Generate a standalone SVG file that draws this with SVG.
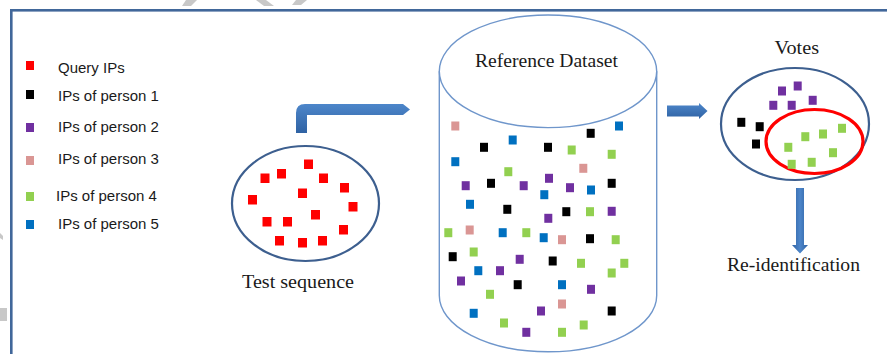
<svg xmlns="http://www.w3.org/2000/svg" width="887" height="354" viewBox="0 0 887 354">
<style>
.r{fill:#ff0000}.k{fill:#000000}.p{fill:#7030a0}.q{fill:#da9694}.g{fill:#92d050}.b{fill:#0070c0}
.leg{font-family:"Liberation Sans",Arial,sans-serif;font-size:15px;fill:#1a1a1a}
.ser{font-family:"Liberation Serif","Times New Roman",serif;font-size:18px;fill:#1a1a1a}
.ell{fill:none;stroke:#3d5f8f;stroke-width:2.2}
.cyl{fill:none;stroke:#6f96cb;stroke-width:1.4}
.gray{fill:#c8c8c8}
</style>
<defs>
<linearGradient id="gh" x1="0" y1="0" x2="0" y2="1"><stop offset="0" stop-color="#4d86ca"/><stop offset="1" stop-color="#2f62a3"/></linearGradient>
<linearGradient id="gv" x1="0" y1="0" x2="1" y2="0"><stop offset="0" stop-color="#2f62a3"/><stop offset="0.5" stop-color="#4d86ca"/><stop offset="1" stop-color="#2f62a3"/></linearGradient>
</defs>
<rect width="887" height="354" fill="#ffffff"/>
<g id="artifacts">
<polygon class="gray" points="186,0 197,0 191,6 182,6"/>
<polygon class="gray" points="256,0 266,0 274,6 264,6"/>
<polygon class="gray" points="296,0 307,0 301,5 292,5"/>
<rect class="gray" x="0" y="308" width="7" height="13"/>
<polygon class="gray" points="0,233 3,236 3,240 0,238"/>
</g>
<rect id="frame" x="11.3" y="10.3" width="900" height="400" fill="none" stroke="#41679a" stroke-width="2.6"/>
<g id="legend">
<rect class="r" x="26" y="61" width="8" height="9"/><text class="leg" x="58" y="73">Query IPs</text>
<rect class="k" x="26" y="90" width="8" height="9"/><text class="leg" x="58" y="101">IPs of person  1</text>
<rect class="p" x="26" y="123" width="8" height="9"/><text class="leg" x="58" y="132">IPs of person  2</text>
<rect class="q" x="26" y="156" width="8" height="9"/><text class="leg" x="58" y="164">IPs of person  3</text>
<rect class="g" x="26" y="192" width="8" height="9"/><text class="leg" x="56" y="201">IPs of person  4</text>
<rect class="b" x="26" y="220" width="8" height="9"/><text class="leg" x="58" y="229">IPs of person  5</text>
</g>
<g id="test-sequence">
<ellipse class="ell" cx="305.5" cy="203.5" rx="73.5" ry="57.5"/>
<g class="r">
<rect x="304" y="159.5" width="9" height="9.5"/><rect x="277" y="169" width="9" height="9.5"/>
<rect x="260.5" y="173.5" width="9" height="9.5"/><rect x="319" y="173.5" width="9" height="9.5"/>
<rect x="340" y="183" width="9" height="9.5"/><rect x="298" y="188.5" width="9" height="9.5"/>
<rect x="248" y="195" width="9" height="9.5"/><rect x="348.5" y="202" width="9" height="9.5"/>
<rect x="311" y="210" width="9" height="9.5"/><rect x="262.5" y="217" width="9" height="9.5"/>
<rect x="283" y="217" width="9" height="9.5"/><rect x="339" y="225" width="9" height="9.5"/>
<rect x="275" y="236" width="9" height="9.5"/><rect x="298" y="238" width="9" height="9.5"/>
<rect x="318" y="236" width="9" height="9.5"/>
</g>
<text class="ser" x="242" y="288" textLength="112" lengthAdjust="spacingAndGlyphs">Test sequence</text>
</g>
<g id="reference-dataset">
<path class="cyl" d="M439.3,71.3 V295.5 A108.7,56.3 0 0 0 656.7,295.5 V71.3"/>
<ellipse class="cyl" cx="548" cy="71.3" rx="108.7" ry="56.3"/>
<text class="ser" x="475" y="66.7" textLength="143" lengthAdjust="spacingAndGlyphs" style="font-size:19px">Reference Dataset</text>
<rect class="q" x="451.3" y="121.5" width="8" height="9"/>
<rect class="b" x="615" y="121.5" width="8" height="9"/>
<rect class="k" x="586.7" y="128.8" width="8" height="9"/>
<rect class="b" x="508.7" y="135.5" width="8" height="9"/>
<rect class="k" x="480" y="142.8" width="8" height="9"/>
<rect class="k" x="544" y="142.8" width="8" height="9"/>
<rect class="g" x="567.7" y="145.5" width="8" height="9"/>
<rect class="g" x="607.7" y="149.8" width="8" height="9"/>
<rect class="b" x="451.3" y="157.2" width="8" height="9"/>
<rect class="q" x="579.3" y="163.8" width="8" height="9"/>
<rect class="g" x="504.3" y="167.2" width="8" height="9"/>
<rect class="p" x="461.7" y="181.2" width="8" height="9"/>
<rect class="k" x="487" y="178.8" width="8" height="9"/>
<rect class="p" x="519.7" y="181.2" width="8" height="9"/>
<rect class="p" x="545" y="173.8" width="8" height="9"/>
<rect class="p" x="566" y="183.2" width="8" height="9"/>
<rect class="b" x="587" y="185.5" width="8" height="9"/>
<rect class="k" x="607.7" y="178.8" width="8" height="9"/>
<rect class="b" x="540.3" y="190.2" width="8" height="9"/>
<rect class="b" x="466" y="199.8" width="8" height="9"/>
<rect class="k" x="503.3" y="204.8" width="8" height="9"/>
<rect class="k" x="562.3" y="207.2" width="8" height="9"/>
<rect class="g" x="586" y="207.2" width="8" height="9"/>
<rect class="p" x="607.7" y="206.8" width="8" height="9"/>
<rect class="p" x="544.3" y="213.8" width="8" height="9"/>
<rect class="g" x="444.3" y="228.2" width="8" height="9"/>
<rect class="q" x="465.7" y="225.5" width="8" height="9"/>
<rect class="b" x="498.7" y="228.2" width="8" height="9"/>
<rect class="g" x="522.3" y="228.2" width="8" height="9"/>
<rect class="b" x="539.7" y="233.2" width="8" height="9"/>
<rect class="q" x="558" y="235.2" width="8" height="9"/>
<rect class="k" x="586" y="234.2" width="8" height="9"/>
<rect class="g" x="611.7" y="235.2" width="8" height="9"/>
<rect class="g" x="469.7" y="247.5" width="8" height="9"/>
<rect class="k" x="448.7" y="252.2" width="8" height="9"/>
<rect class="p" x="515.7" y="254.8" width="8" height="9"/>
<rect class="k" x="548.7" y="256.5" width="8" height="9"/>
<rect class="g" x="577" y="258.8" width="8" height="9"/>
<rect class="g" x="620.3" y="258.8" width="8" height="9"/>
<rect class="b" x="474.3" y="266.2" width="8" height="9"/>
<rect class="p" x="496" y="266.2" width="8" height="9"/>
<rect class="g" x="607.7" y="268.5" width="8" height="9"/>
<rect class="p" x="457" y="276.5" width="8" height="9"/>
<rect class="k" x="513.7" y="280.2" width="8" height="9"/>
<rect class="b" x="558" y="280.2" width="8" height="9"/>
<rect class="p" x="587" y="284.8" width="8" height="9"/>
<rect class="g" x="486" y="289.8" width="8" height="9"/>
<rect class="q" x="558" y="299.5" width="8" height="9"/>
<rect class="p" x="537" y="306.5" width="8" height="9"/>
<rect class="k" x="607.7" y="306.5" width="8" height="9"/>
<rect class="b" x="469.7" y="308.8" width="8" height="9"/>
<rect class="g" x="500" y="318.5" width="8" height="9"/>
<rect class="g" x="579.7" y="320.5" width="8" height="9"/>
<rect class="p" x="522.3" y="327.8" width="8" height="9"/>
<rect class="g" x="558" y="327.8" width="8" height="9"/>
</g>
<g id="votes">
<text class="ser" x="774.5" y="54.3" textLength="44.5" lengthAdjust="spacingAndGlyphs" style="font-size:19px">Votes</text>
<ellipse class="ell" cx="795" cy="124" rx="74" ry="56"/>
<ellipse cx="814.5" cy="141.5" rx="48.5" ry="32" fill="none" stroke="#ff0000" stroke-width="3.2"/>
<rect class="p" x="778" y="86.5" width="8" height="9"/>
<rect class="p" x="793.7" y="81.5" width="8" height="9"/>
<rect class="p" x="769.3" y="100.8" width="8" height="9"/>
<rect class="p" x="787.7" y="100.8" width="8" height="9"/>
<rect class="p" x="808.7" y="95.8" width="8" height="9"/>
<rect class="k" x="737.3" y="117.8" width="8" height="9"/>
<rect class="k" x="755.7" y="122.2" width="8" height="9"/>
<rect class="k" x="752" y="139.5" width="8" height="9"/>
<rect class="g" x="801.3" y="132.2" width="8" height="9"/>
<rect class="g" x="819" y="129.5" width="8" height="9"/>
<rect class="g" x="838" y="123.8" width="8" height="9"/>
<rect class="g" x="784.3" y="142.8" width="8" height="9"/>
<rect class="g" x="829" y="148.2" width="8" height="9"/>
<rect class="g" x="787.7" y="159.8" width="8" height="9"/>
<rect class="g" x="807.7" y="157.8" width="8" height="9"/>
</g>
<g id="re-identification">
<text class="ser" x="727" y="271" textLength="133" lengthAdjust="spacingAndGlyphs">Re-identification</text>
</g>
<g id="connectors">
<path d="M296,133 V113 Q296,104 305,104 H403 L410,109.5 L403,115 H307 V133 Z" fill="url(#gh)"/>
<path d="M667,105.5 H699 V103 L707.5,111 L699,119 V116.5 H667 Z" fill="url(#gh)"/>
<path d="M796,188 H804 V245 H808 L800,253.5 L792,245 H796 Z" fill="url(#gv)"/>
</g>
</svg>
